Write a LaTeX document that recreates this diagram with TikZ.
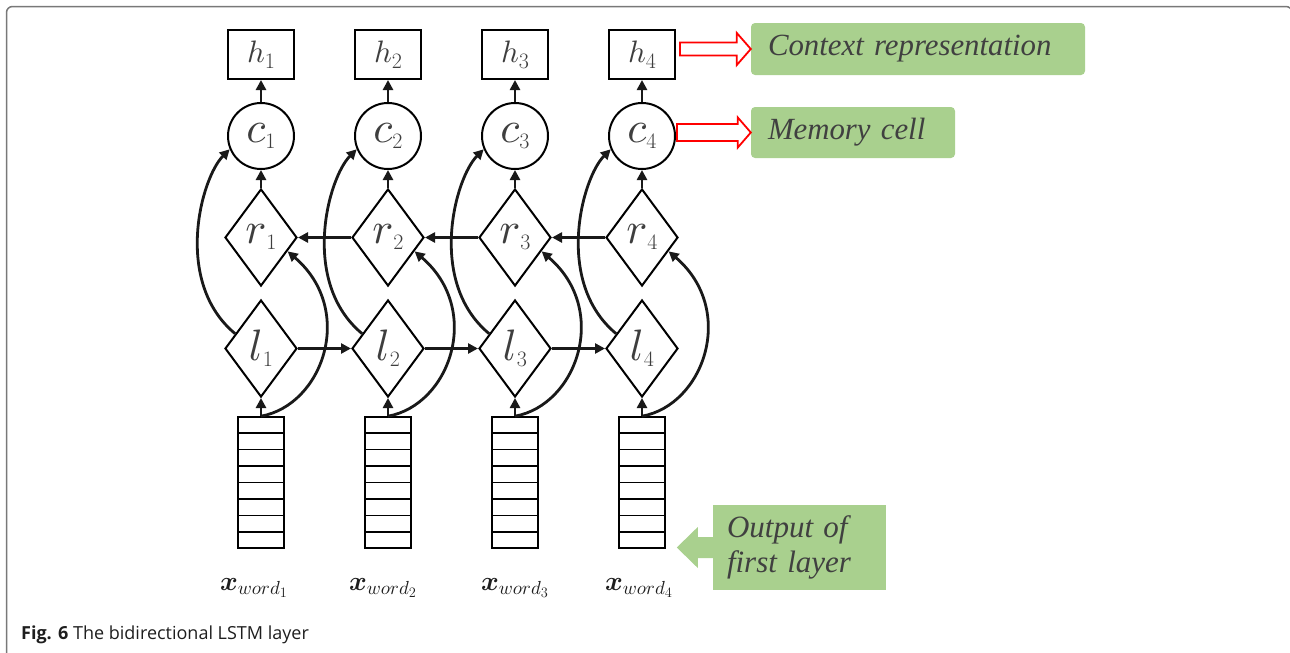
\documentclass[tikz,border=0pt]{standalone}
\usepackage{fontspec}
\usepackage{amsmath}
\DeclareFontShape{OML}{cmm}{m}{it}{<->cmmi10}{}
\DeclareFontShape{OML}{cmm}{b}{it}{<->cmmib10}{}
\usetikzlibrary{shapes.geometric,calc,arrows.meta}
\newfontfamily\greenfont{Liberation Serif}
\newfontfamily\capfont{Open Sans}
\definecolor{boxgreen}{RGB}{169,208,142}
\definecolor{labgray}{RGB}{62,62,62}
\definecolor{greentext}{RGB}{64,64,64}
\definecolor{framegray}{RGB}{120,120,120}
\definecolor{arrowblack}{RGB}{25,25,25}
\definecolor{captext}{RGB}{30,30,30}
\newcommand\symlab[3]{{\fontsize{#1}{#1}\selectfont$#2$}\raisebox{-6pt}{\fontsize{22}{22}\selectfont #3}}
\begin{document}
\begin{tikzpicture}[x=1pt,y=-1pt,
  hbox/.style={draw, line width=2pt, minimum width=66pt, minimum height=49pt, inner sep=0pt, text=labgray},
  cell/.style={draw, circle, line width=2pt, minimum size=66pt, inner sep=0pt, text=labgray},
  gate/.style={draw, diamond, line width=2pt, minimum width=72pt, minimum height=97pt, inner sep=0pt, aspect=0.74, text=labgray},
  xbox/.style={draw, line width=1.6pt, minimum width=46pt, minimum height=131pt, inner sep=0pt},
  conn/.style={line width=2.8pt, color=arrowblack, -{Triangle[length=10pt,width=10pt]}},
  greenbox/.style={fill=boxgreen, rounded corners=4pt, inner xsep=17pt, inner ysep=0pt, text=greentext, font=\greenfont\itshape\fontsize{30.8}{36}\selectfont, align=left},
  redarrow/.style={draw=red, line width=1.8pt, fill=white, line join=miter},
  xlab/.style={text=captext, font=\fontsize{27}{27}\selectfont, inner sep=0pt}
]
\useasboundingbox (0,0) rectangle (1290,653);
\clip (0,0) rectangle (1290,653);
\draw[framegray, line width=1.5pt, rounded corners=6pt] (6.5,700) -- (6.5,6.5) -- (1292,6.5) -- (1292,700);

\foreach \i/\x in {1/261,2/388,3/515,4/642} {
  \node[hbox] (h\i) at (\x,54.5) {\symlab{31}{h}{\i}};
  \node[cell] (c\i) at (\x,136) {\symlab{44}{c}{\i}};
  \node[gate] (r\i) at (\x,237.5) {\symlab{44}{r}{\i}};
  \node[gate] (l\i) at (\x,348.5) {\symlab{44}{l}{\i}};
  \node[xbox] (x\i) at (\x,482.5) {};
  \foreach \k in {1,...,7}
    \draw[line width=1.6pt] ($(x\i.north west)!\k/8!(x\i.south west)$) -- ($(x\i.north east)!\k/8!(x\i.south east)$);
  \draw[conn] (c\i) -- (h\i);
  \draw[conn] (r\i) -- (c\i);
  \draw[conn] (x\i) -- (l\i);
  \draw[conn] ($(l\i.west)!0.3!(l\i.north)$) .. controls (\x-88,282) and (\x-60,178) .. (c\i.203);
  \draw[conn] (x\i.north) .. controls (\x+62,405) and (\x+95,310) .. ($(r\i.east)!0.28!(r\i.south)$);
}
\foreach \i/\j in {1/2,2/3,3/4} {
  \draw[conn] (r\j) -- (r\i);
  \draw[conn] (l\i) -- (l\j);
}

\node[xlab] (w1) at (254,588) {$\boldsymbol{x}_{word_1}$};
\node[xlab] (w2) at (383,588) {$\boldsymbol{x}_{word_2}$};
\node[xlab] (w3) at (515,588) {$\boldsymbol{x}_{word_3}$};
\node[xlab] (w4) at (639,588) {$\boldsymbol{x}_{word_4}$};

\node[greenbox, text width=300pt, minimum height=52pt] (ctx) at (918,49) {Context representation};
\node[greenbox, text width=170pt, minimum height=51pt] (mem) at (853,132.5) {Memory cell};
\node[greenbox, rounded corners=0pt, inner xsep=14pt, text width=145pt, minimum height=85pt, font=\greenfont\itshape\fontsize{31}{35}\selectfont] (out) at (799.5,547.5) {Output of\\first layer};
\fill[boxgreen] ($(out.west)+(1,-10.5)$) -- ++(-16,0) -- ++(0,-10) -- ($(out.west)+(-36,0)$) -- ($(out.west)+(-15,20.5)$) -- ++(0,-10) -- ($(out.west)+(1,10.5)$) -- cycle;

\draw[redarrow] (ctx.west) -- ++(-14,-16) -- ++(0,9.5) -- ($(h4.east |- ctx.west)+(4,-6.5)$) -- ++(0,13) -- ($(ctx.west)+(-14,6.5)$) -- ++(0,9.5) -- cycle;
\draw[redarrow] (mem.west) -- ++(-13,-15) -- ++(0,6.5) -- ($(c4.east |- mem.west)+(1,-8.5)$) -- ++(0,17) -- ($(mem.west)+(-13,8.5)$) -- ++(0,6.5) -- cycle;

\node[anchor=base west, inner sep=0pt, text=captext, font=\capfont\fontsize{18}{18}\selectfont] (cap) at (21,639) {\textbf{Fig. 6} The bidirectional LSTM layer};
\end{tikzpicture}
\end{document}
